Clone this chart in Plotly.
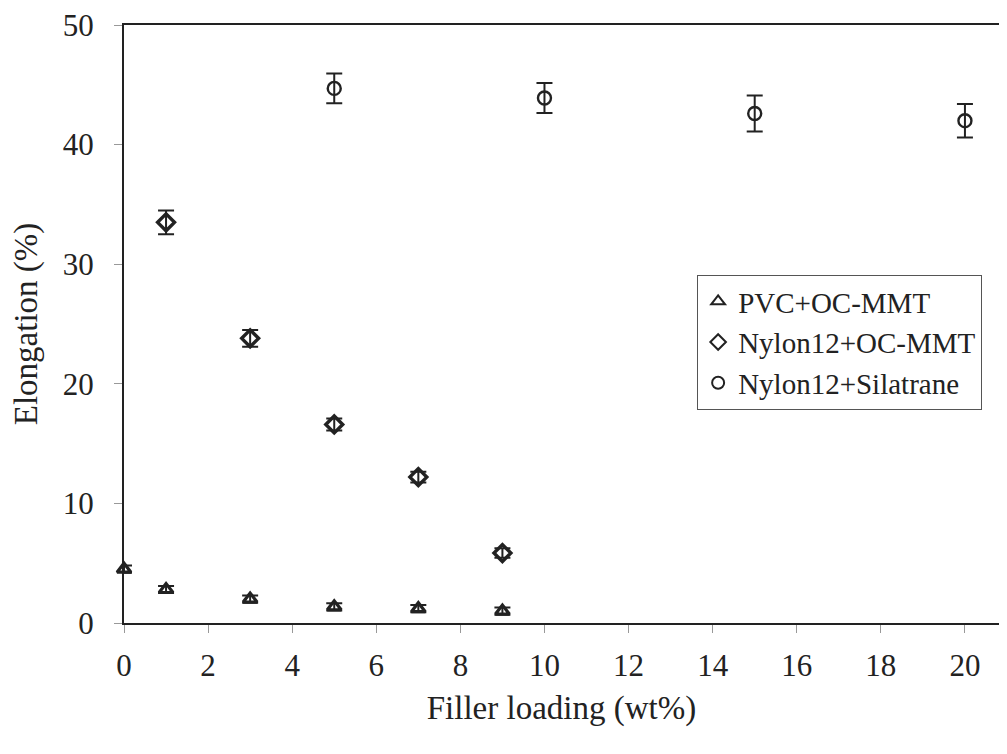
import plotly.graph_objects as go

# Data
pvc_x = [0, 1, 3, 5, 7, 9]
pvc_y = [4.5, 2.8, 2.0, 1.35, 1.2, 1.0]
pvc_err = [0.3, 0.3, 0.3, 0.3, 0.3, 0.3]

nylon_mmt_x = [1, 3, 5, 7, 9]
nylon_mmt_y = [33.5, 23.8, 16.6, 12.2, 5.85]
nylon_mmt_err = [1.0, 0.7, 0.5, 0.45, 0.4]

nylon_sil_x = [5, 10, 15, 20]
nylon_sil_y = [44.7, 43.9, 42.6, 42.0]
nylon_sil_err = [1.25, 1.25, 1.5, 1.4]

x_ticks = [0, 2, 4, 6, 8, 10, 12, 14, 16, 18, 20]
y_ticks = [0, 10, 20, 30, 40, 50]

ink = "#222222"
font = "Liberation Serif, Times New Roman, serif"

fig = go.Figure()

def add(name, xs, ys, errs, symbol, size, lw):
    fig.add_trace(go.Scatter(
        x=xs, y=ys, name=name, mode="markers", cliponaxis=False,
        marker=dict(symbol=symbol, size=size, color=ink,
                    line=dict(color=ink, width=lw)),
        error_y=dict(type="data", array=errs, visible=True,
                     color=ink, thickness=2, width=8),
    ))

add("PVC+OC-MMT", pvc_x, pvc_y, pvc_err, "triangle-up-open", 12, 3.2)
add("Nylon12+OC-MMT", nylon_mmt_x, nylon_mmt_y, nylon_mmt_err, "diamond-open", 13, 3.4)
add("Nylon12+Silatrane", nylon_sil_x, nylon_sil_y, nylon_sil_err, "circle-open", 13, 2.4)

fig.update_layout(
    width=991, height=738,
    margin=dict(l=116, r=0, t=17, b=123),
    paper_bgcolor="white", plot_bgcolor="white",
    font=dict(family=font, size=31, color=ink),
    showlegend=True,
    legend=dict(
        x=0.655, y=0.582, xanchor="left", yanchor="top",
        bgcolor="white", bordercolor="#555555", borderwidth=1,
        font=dict(family=font, size=29, color=ink),
        itemsizing="constant", tracegroupgap=2, itemwidth=30,
    ),
    xaxis=dict(
        range=[0, 20.81], tickvals=x_ticks, ticktext=[str(v) for v in x_ticks],
        showgrid=False, zeroline=False,
        showline=True, linecolor=ink, linewidth=2, mirror=True,
        ticks="outside", ticklen=8, tickcolor="#999999", tickwidth=1,
        ticklabelstandoff=6, ticklabeloverflow="allow",
        tickfont=dict(family=font, size=31, color=ink),
        title=dict(text="Filler loading (wt%)", font=dict(family=font, size=33, color=ink),
                   standoff=14),
    ),
    yaxis=dict(
        range=[0, 50], tickvals=y_ticks, ticktext=[str(v) for v in y_ticks],
        showgrid=False, zeroline=False,
        showline=True, linecolor=ink, linewidth=2, mirror=False,
        ticks="outside", ticklen=8, tickcolor="#999999", tickwidth=1,
        ticklabelstandoff=14, ticklabeloverflow="allow",
        tickfont=dict(family=font, size=31, color=ink),
        title=dict(text="Elongation (%)", font=dict(family=font, size=33, color=ink),
                   standoff=18),
    ),
)

fig.write_html("out.html")
